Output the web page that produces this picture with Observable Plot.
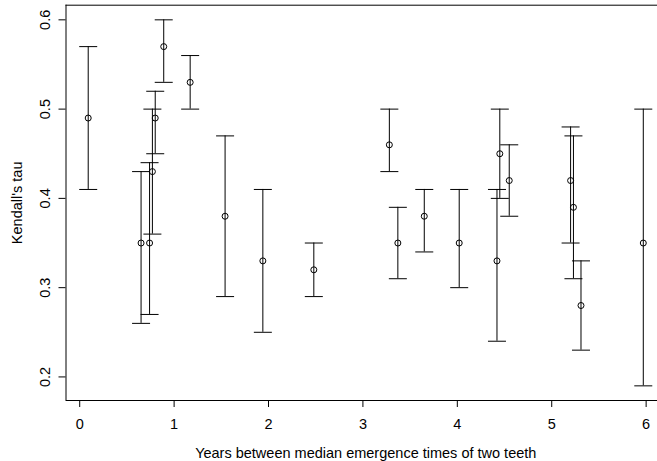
<!DOCTYPE html>
<html>
<head>
<meta charset="utf-8">
<script src="https://cdn.jsdelivr.net/npm/d3@7"></script>
<script src="https://cdn.jsdelivr.net/npm/@observablehq/plot@0.6"></script>
<style>
  html, body { margin: 0; padding: 0; background: #fff; overflow: hidden; }
  #chart svg { display: block; }
</style>
</head>
<body>
<div id="chart"></div>
<script>
// Years between median emergence times of two teeth
const years = [0.09, 0.65, 0.74, 0.77, 0.80, 0.89, 1.17, 1.54, 1.94, 2.48,
               3.28, 3.37, 3.65, 4.02, 4.42, 4.45, 4.55, 5.20, 5.23, 5.31, 5.97];
// Kendall's tau estimates
const tau = [0.49, 0.35, 0.35, 0.43, 0.49, 0.57, 0.53, 0.38, 0.33, 0.32,
             0.46, 0.35, 0.38, 0.35, 0.33, 0.45, 0.42, 0.42, 0.39, 0.28, 0.35];
// lower / upper interval limits
const lower = [0.41, 0.26, 0.27, 0.36, 0.45, 0.53, 0.50, 0.29, 0.25, 0.29,
               0.43, 0.31, 0.34, 0.30, 0.24, 0.40, 0.38, 0.35, 0.31, 0.23, 0.19];
const upper = [0.57, 0.43, 0.44, 0.50, 0.52, 0.60, 0.56, 0.47, 0.41, 0.35,
               0.50, 0.39, 0.41, 0.41, 0.41, 0.50, 0.46, 0.48, 0.47, 0.33, 0.50];

const xTicks = [0, 1, 2, 3, 4, 5, 6];
const yTicks = [0.2, 0.3, 0.4, 0.5, 0.6];
const xLabel = "Years between median emergence times of two teeth";
const yLabel = "Kendall's tau";

const data = years.map((x, i) => ({x, tau: tau[i], lo: lower[i], hi: upper[i]}));

// R-style 4% padding of data range
const xd = d3.extent(years), yd = [d3.min(lower), d3.max(upper)];
const xPad = (xd[1] - xd[0]) * 0.04, yPad = (yd[1] - yd[0]) * 0.04;
const xDomain = [xd[0] - xPad, xd[1] + xPad];
const yDomain = [yd[0] - yPad, yd[1] + yPad];

const W = 657, H = 461;
const mL = 65.5, mT = 4.7, mB = 61;
const font = "'Liberation Sans', Arial, Helvetica, sans-serif";

const cap = {
  draw(ctx) { ctx.moveTo(-9, 0); ctx.lineTo(9, 0); }
};

const chart = Plot.plot({
  width: W,
  height: H,
  marginLeft: mL,
  marginRight: 0,
  marginTop: mT,
  marginBottom: mB,
  style: {fontFamily: font, fontSize: "14.5px", color: "#000", background: "#fff"},
  x: {domain: xDomain, range: [mL, 665]},
  y: {domain: yDomain},
  marks: [
    // plot box
    Plot.ruleY([yDomain[0], yDomain[1]], {x1: xDomain[0], x2: xDomain[1], stroke: "#000", strokeWidth: 1}),
    Plot.ruleX([xDomain[0], xDomain[1]], {y1: yDomain[0], y2: yDomain[1], stroke: "#000", strokeWidth: 1}),
    // axes
    Plot.axisX({ticks: xTicks, tickSize: 7, tickPadding: 11, tickFormat: d => String(d), label: null, fontSize: 14.5}),
    Plot.axisY({ticks: yTicks, tickSize: 7, tickFormat: () => "", label: null}),
    Plot.text(yTicks, {y: d => d, text: d => d.toFixed(1), frameAnchor: "left", textAnchor: "middle", lineAnchor: "middle", dx: -20.5, rotate: -90, fontSize: 14.5, fill: "#000"}),
    Plot.text([yLabel], {text: d => d, frameAnchor: "left", textAnchor: "middle", lineAnchor: "middle", dx: -48.5, rotate: -90, fontSize: 14.5, fill: "#000"}),
    Plot.text([xLabel], {text: d => d, frameAnchor: "bottom", textAnchor: "middle", lineAnchor: "bottom", dx: 4, dy: 57, fontSize: 14.5, fill: "#000"}),
    // error bars
    Plot.ruleX(data, {x: "x", y1: "lo", y2: "hi", stroke: "#000", strokeWidth: 1}),
    Plot.dot(data, {x: "x", y: "lo", symbol: cap, stroke: "#000", strokeWidth: 1, fill: "none"}),
    Plot.dot(data, {x: "x", y: "hi", symbol: cap, stroke: "#000", strokeWidth: 1, fill: "none"}),
    // point estimates
    Plot.dot(data, {x: "x", y: "tau", r: 3, stroke: "#000", strokeWidth: 1, fill: "none"})
  ]
});
document.getElementById("chart").appendChild(chart);
</script>
</body>
</html>
